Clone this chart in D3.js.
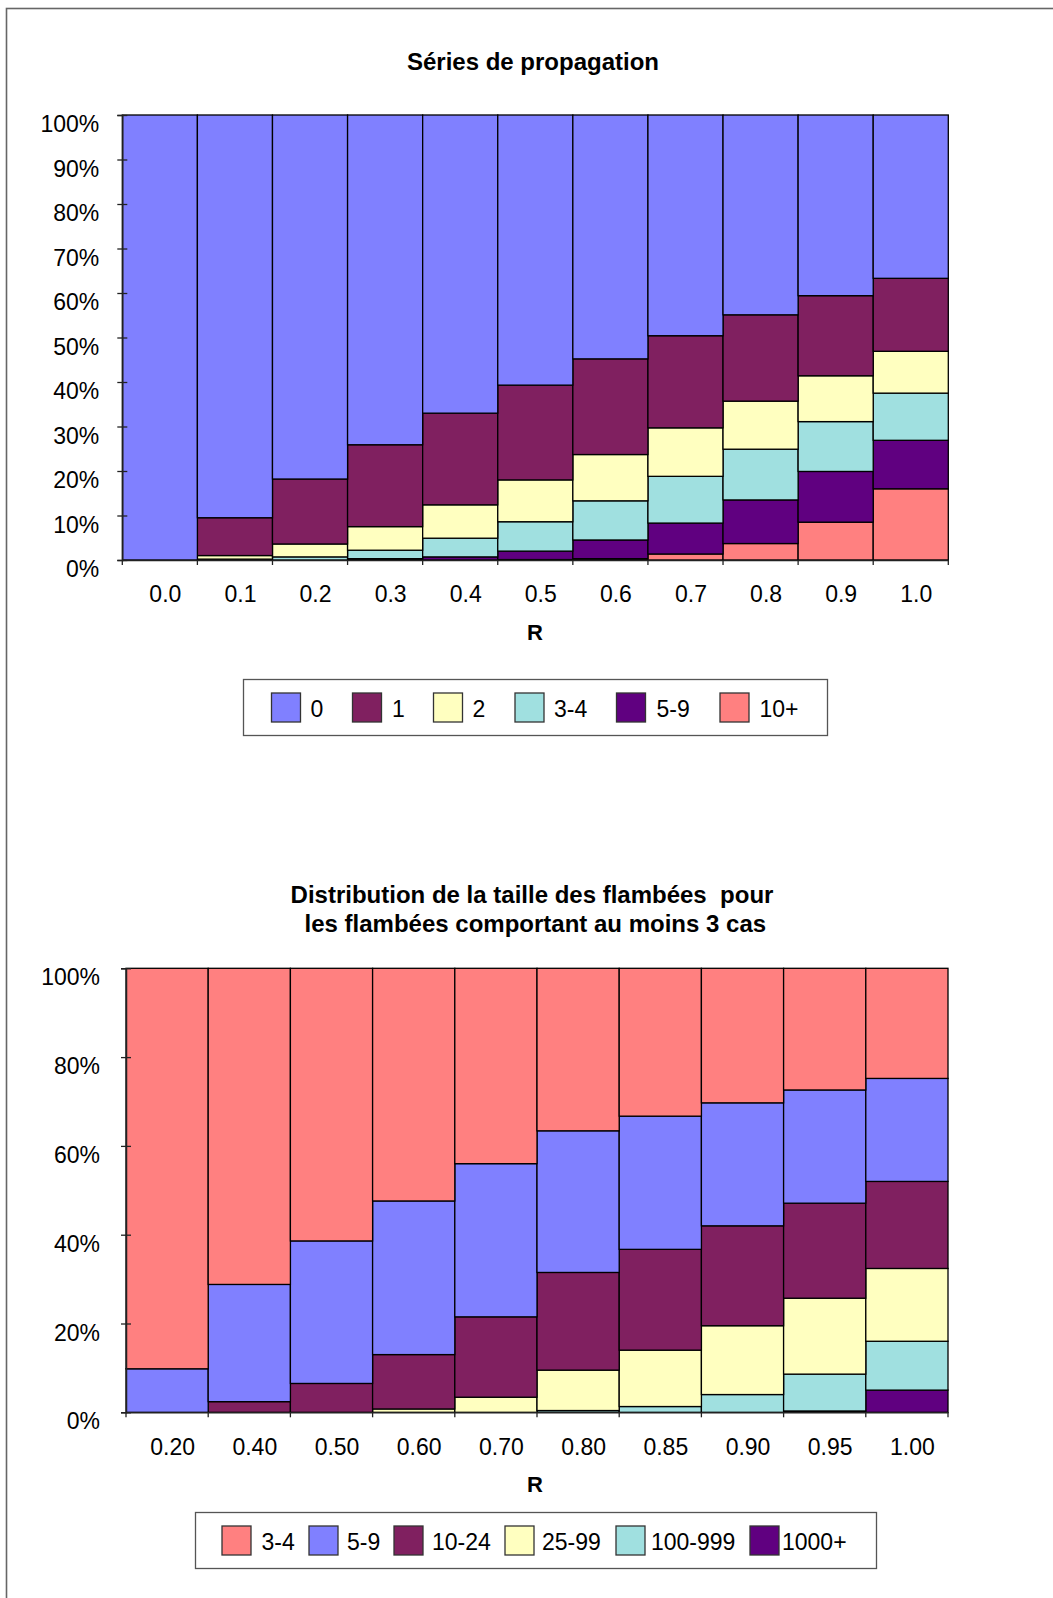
<!DOCTYPE html>
<html>
<head>
<meta charset="utf-8">
<script src="https://cdn.jsdelivr.net/npm/d3@7"></script>
<style>
  html, body { margin: 0; padding: 0; background: #fff; }
  svg { display: block; }
  text { font-family: "Liberation Sans", Arial, Helvetica, sans-serif; fill: #000; }
</style>
</head>
<body>
<svg id="page" width="1053" height="1598"></svg>
<script>
// ---- Chart 1: Séries de propagation ----
const propR = ["0.0", "0.1", "0.2", "0.3", "0.4", "0.5", "0.6", "0.7", "0.8", "0.9", "1.0"];
const propKeys = ["10+", "5-9", "3-4", "2", "1", "0"];            // stacking order, bottom to top
const propLegend = ["0", "1", "2", "3-4", "5-9", "10+"];
const prop0   = [100, 90.5, 81.8, 74.1, 67.0, 60.7, 54.8, 49.6, 44.9, 40.6, 36.7];
const prop1   = [0, 8.5, 14.6, 18.4, 20.6, 21.3, 21.5, 20.7, 19.4, 18.0, 16.4];
const prop2   = [0, 0.8, 2.9, 5.3, 7.5, 9.4, 10.4, 10.9, 10.8, 10.3, 9.4];
const prop34  = [0, 0.2, 0.7, 1.9, 4.2, 6.6, 8.8, 10.5, 11.4, 11.2, 10.6];
const prop59  = [0, 0, 0, 0.3, 0.7, 1.9, 4.2, 6.95, 9.8, 11.4, 10.9];
const prop10p = [0, 0, 0, 0, 0, 0.1, 0.3, 1.35, 3.7, 8.5, 16.0];
const propTicks = [0, 10, 20, 30, 40, 50, 60, 70, 80, 90, 100];

// ---- Chart 2: taille des flambées (>= 3 cas) ----
const sizeR = ["0.20", "0.40", "0.50", "0.60", "0.70", "0.80", "0.85", "0.90", "0.95", "1.00"];
const sizeKeys = ["1000+", "100-999", "25-99", "10-24", "5-9", "3-4"]; // bottom to top
const sizeLegend = ["3-4", "5-9", "10-24", "25-99", "100-999", "1000+"];
const size34    = [90.2, 71.2, 61.4, 52.4, 44.0, 36.6, 33.3, 30.3, 27.4, 24.8];
const size59    = [9.8, 26.4, 32.1, 34.6, 34.5, 31.9, 30.0, 27.7, 25.5, 23.2];
const size1024  = [0, 2.4, 6.5, 12.25, 18.1, 22.0, 22.7, 22.5, 21.4, 19.6];
const size2599  = [0, 0, 0, 0.75, 3.4, 9.1, 12.7, 15.5, 17.1, 16.4];
const size100   = [0, 0, 0, 0, 0, 0.4, 1.3, 4.0, 8.3, 11.0];
const size1000p = [0, 0, 0, 0, 0, 0, 0, 0, 0.3, 5.0];
const sizeTicks = [0, 20, 40, 60, 80, 100];

// Palette
const colors = {
  "0": "#8080FF", "1": "#802060", "2": "#FFFFC0", "3-4": "#A0E0E0", "5-9": "#600080", "10+": "#FF8080"
};
const sizeColors = {
  "3-4": "#FF8080", "5-9": "#8080FF", "10-24": "#802060", "25-99": "#FFFFC0", "100-999": "#A0E0E0", "1000+": "#600080"
};

const svg = d3.select("#page");

// outer frame
svg.append("rect")
  .attr("x", 6.5).attr("y", 8.5).attr("width", 1100).attr("height", 1700)
  .attr("fill", "none").attr("stroke", "#666").attr("stroke-width", 1.6);

function drawChart(opt) {
  const g = svg.append("g");
  const rows = opt.cats.map((c, i) => {
    const r = { cat: c };
    opt.keys.forEach(k => { r[k] = opt.series[k][i]; });
    return r;
  });
  const x = d3.scaleBand().domain(opt.cats).range([opt.left, opt.right]).padding(0);
  const y = d3.scaleLinear().domain([0, 100]).range([opt.bottom, opt.top]);
  const stacked = d3.stack().keys(opt.keys)(rows);

  // bars
  g.selectAll("g.layer").data(stacked).join("g")
    .attr("class", "layer")
    .attr("fill", d => opt.colors[d.key])
    .selectAll("rect").data(d => d.filter(p => p[1] - p[0] > 0)).join("rect")
      .attr("x", d => x(d.data.cat))
      .attr("width", x.bandwidth())
      .attr("y", d => y(d[1]))
      .attr("height", d => y(d[0]) - y(d[1]))
      .attr("stroke", "#000").attr("stroke-width", 1.3);

  // y axis
  const yAxis = d3.axisLeft(y).tickValues(opt.yTicks).tickSize(5).tickPadding(opt.yPad)
    .tickFormat(d => d + "%");
  const ya = g.append("g").attr("transform", `translate(${opt.left},0)`).call(yAxis);
  ya.select(".domain").attr("stroke", "#222").attr("stroke-width", 1.5);
  ya.selectAll(".tick line").attr("x1", 5).attr("stroke", "#222").attr("stroke-width", 1.3);
  ya.selectAll(".tick text").attr("font-size", 23).attr("dy", "0.72em")
    .attr("font-family", "Liberation Sans, Arial, sans-serif").attr("fill", "#000");

  // x axis: labels centred in each bar, ticks on bar boundaries
  const xAxis = d3.axisBottom(x).tickSize(0).tickPadding(26);
  const xa = g.append("g").attr("transform", `translate(0,${opt.bottom})`).call(xAxis);
  xa.select(".domain").attr("stroke", "#222").attr("stroke-width", 1.5);
  xa.selectAll(".tick text").attr("font-size", 23).attr("dx", 5.5)
    .attr("font-family", "Liberation Sans, Arial, sans-serif").attr("fill", "#000");
  const bounds = opt.cats.map(c => x(c)).concat([x(opt.cats[opt.cats.length - 1]) + x.bandwidth()]);
  g.append("g").selectAll("line").data(bounds).join("line")
    .attr("x1", d => d).attr("x2", d => d)
    .attr("y1", opt.bottom).attr("y2", opt.bottom + 5)
    .attr("stroke", "#222").attr("stroke-width", 1.3);

  // axis title
  g.append("text").attr("x", opt.xTitleX).attr("y", opt.xTitleY)
    .attr("text-anchor", "middle").attr("font-size", 22).attr("font-weight", "bold").text("R");

  // chart title
  const t = g.append("text").attr("text-anchor", "middle").attr("font-size", 24)
    .attr("font-weight", "bold").style("white-space", "pre");
  opt.title.forEach((line, i) => {
    t.append("tspan").attr("x", opt.titleX).attr("y", opt.titleY + i * 28.5).text(line);
  });

  // legend
  const lg = g.append("g");
  lg.append("rect").attr("x", opt.legend.x).attr("y", opt.legend.y)
    .attr("width", opt.legend.w).attr("height", opt.legend.h)
    .attr("fill", "#fff").attr("stroke", "#555").attr("stroke-width", 1.3);
  opt.legendKeys.forEach((k, i) => {
    const sx = opt.legend.swatchX[i];
    lg.append("rect").attr("x", sx).attr("y", opt.legend.y + 13.5)
      .attr("width", 29).attr("height", 29)
      .attr("fill", opt.colors[k]).attr("stroke", "#333").attr("stroke-width", 1.3);
    lg.append("text").attr("x", opt.legend.textX[i]).attr("y", opt.legend.y + 37)
      .attr("font-size", 23).text(k);
  });
}

drawChart({
  cats: propR, keys: propKeys, legendKeys: propLegend, colors: colors,
  series: { "0": prop0, "1": prop1, "2": prop2, "3-4": prop34, "5-9": prop59, "10+": prop10p },
  left: 122.3, right: 948.3, top: 115, bottom: 560, yTicks: propTicks, yPad: 18,
  xTitleX: 535, xTitleY: 640,
  title: ["Séries de propagation"], titleX: 533, titleY: 70,
  legend: {
    x: 243.5, y: 679.5, w: 584, h: 56,
    swatchX: [271.5, 352.5, 433.5, 515, 616.5, 720],
    textX: [310.5, 392, 472.5, 554, 656.5, 759.5]
  }
});

drawChart({
  cats: sizeR, keys: sizeKeys, legendKeys: sizeLegend, colors: sizeColors,
  series: { "3-4": size34, "5-9": size59, "10-24": size1024, "25-99": size2599, "100-999": size100, "1000+": size1000p },
  left: 126, right: 948, top: 968.3, bottom: 1412.3, yTicks: sizeTicks, yPad: 21,
  xTitleX: 535, xTitleY: 1492,
  title: ["Distribution de la taille des flambées  pour", " les flambées comportant au moins 3 cas"],
  titleX: 532, titleY: 903,
  legend: {
    x: 195.5, y: 1512.5, w: 681, h: 56,
    swatchX: [222, 309, 394, 505, 616, 750],
    textX: [261.5, 347, 432, 542, 651, 782]
  }
});
</script>
</body>
</html>
